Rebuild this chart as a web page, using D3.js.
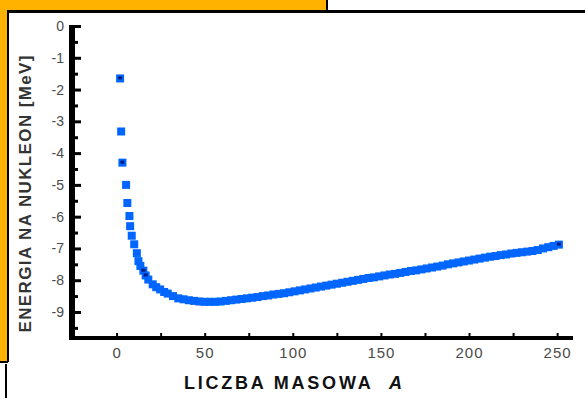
<!DOCTYPE html>
<html>
<head>
<meta charset="utf-8">
<script src="https://cdn.jsdelivr.net/npm/d3@7"></script>
<style>
  body { margin: 0; background: #fff; }
  svg { display: block; }
</style>
</head>
<body>
<div id="chart"></div>
<script>
// data
const massNumber = [2, 2.6, 3.3, 5.4, 6.1, 7.3, 7.7, 8.6, 10, 11.5, 12.4, 13.5, 15.2, 16.5, 18, 20.5,
  22.5, 24.7, 27, 29, 32, 35, 38, 41, 44, 47, 50, 53, 56, 59, 62, 65, 68, 71, 74, 77, 80, 83, 86,
  89, 92, 95, 98, 101, 104, 107, 110, 113, 116, 119, 122, 125, 128, 131, 134, 137, 140, 143, 146,
  149, 152, 155, 158, 161, 164, 167, 170, 173, 176, 179, 182, 185, 188, 191, 194, 197, 200, 203,
  206, 209, 212, 215, 218, 221, 224, 227, 230, 233, 236, 239, 242, 245, 248, 251]
const energy = [-1.65, -3.32, -4.3, -5.0, -5.57, -5.98, -6.3, -6.6, -6.87, -7.15, -7.4, -7.55, -7.7,
  -7.85, -7.98, -8.13, -8.22, -8.29, -8.37, -8.42, -8.5, -8.57, -8.6, -8.63, -8.65, -8.67, -8.68,
  -8.68, -8.68, -8.67, -8.65, -8.63, -8.61, -8.59, -8.57, -8.55, -8.53, -8.5, -8.48, -8.45, -8.43,
  -8.41, -8.38, -8.35, -8.32, -8.29, -8.26, -8.23, -8.2, -8.17, -8.14, -8.11, -8.08, -8.05, -8.02,
  -7.99, -7.96, -7.93, -7.91, -7.88, -7.85, -7.82, -7.8, -7.77, -7.74, -7.71, -7.69, -7.66, -7.63,
  -7.6, -7.57, -7.54, -7.5, -7.47, -7.44, -7.41, -7.38, -7.35, -7.32, -7.29, -7.26, -7.24, -7.21,
  -7.19, -7.16, -7.14, -7.12, -7.1, -7.08, -7.05, -7.0, -6.96, -6.92, -6.88]
// darker markers
const markedA = [2, 3.3, 15.2, 16.5, 251]
const markedE = [-1.65, -4.3, -7.7, -7.85, -6.88]

const xTicks = [0, 50, 100, 150, 200, 250]
const xMinor = [25, 75, 125, 175, 225]
const yTicks = [0, -1, -2, -3, -4, -5, -6, -7, -8, -9]
const yMinor = [-0.5, -1.5, -2.5, -3.5, -4.5, -5.5, -6.5, -7.5, -8.5, -9.5]

const W = 585, H = 398

const svg = d3.select("#chart").append("svg")
    .attr("width", W)
    .attr("height", H)

// frame / background decoration
svg.append("rect").attr("x", 0).attr("y", 0).attr("width", 327).attr("height", 10).attr("fill", "#ffb300")
svg.append("rect").attr("x", 0).attr("y", 0).attr("width", 7).attr("height", 362).attr("fill", "#ffb300")
svg.append("rect").attr("x", 7).attr("y", 10).attr("width", 578).attr("height", 3).attr("fill", "#000")
svg.append("rect").attr("x", 326).attr("y", 0).attr("width", 2).attr("height", 10).attr("fill", "#000")
svg.append("rect").attr("x", 7).attr("y", 10).attr("width", 2).attr("height", 352).attr("fill", "#000")
svg.append("rect").attr("x", 0).attr("y", 361).attr("width", 8).attr("height", 2).attr("fill", "#000")
svg.append("rect").attr("x", 5).attr("y", 364).attr("width", 2).attr("height", 34).attr("fill", "#000")

const x = d3.scaleLinear().domain([-27, 259]).range([69, 573])
const y = d3.scaleLinear().domain([0, -9.85]).range([26, 339])

// x axis
svg.append("g")
    .attr("transform", "translate(0,337)")
    .call(d3.axisTop(x).tickValues(xTicks.concat(xMinor)).tickSize(4).tickFormat(""))
    .call(g => g.select(".domain").remove())
    .call(g => g.selectAll("line").attr("stroke", "#000").attr("stroke-width", 2))
svg.append("rect").attr("x", 69).attr("y", 336).attr("width", 504).attr("height", 4).attr("fill", "#000")

svg.append("g")
    .attr("transform", "translate(0,340)")
    .call(d3.axisBottom(x).tickValues(xTicks).tickSize(0).tickPadding(7))
    .call(g => g.select(".domain").remove())
    .call(g => g.selectAll("text")
        .attr("fill", "#4a4a4a")
        .style("font-family", "Liberation Sans, Arial, sans-serif")
        .style("font-size", "15px")
        .style("letter-spacing", "1px"))

// y axis
svg.append("rect").attr("x", 69).attr("y", 25).attr("width", 6).attr("height", 315).attr("fill", "#000")
svg.append("g")
    .attr("transform", "translate(75,0)")
    .call(d3.axisRight(y).tickValues(yTicks).tickSize(6).tickFormat(""))
    .call(g => g.select(".domain").remove())
    .call(g => g.selectAll("line").attr("stroke", "#000").attr("stroke-width", 3))
svg.append("g")
    .attr("transform", "translate(75,0)")
    .call(d3.axisRight(y).tickValues(yMinor).tickSize(3).tickFormat(""))
    .call(g => g.select(".domain").remove())
    .call(g => g.selectAll("line").attr("stroke", "#000").attr("stroke-width", 3))

svg.append("g")
    .attr("transform", "translate(69,0)")
    .call(d3.axisLeft(y).tickValues(yTicks).tickSize(0).tickPadding(5).tickFormat(d => d === 0 ? "0" : "-" + Math.abs(d)))
    .call(g => g.select(".domain").remove())
    .call(g => g.selectAll("text")
        .attr("fill", "#4a4a4a")
        .style("font-family", "Liberation Sans, Arial, sans-serif")
        .style("font-size", "14px"))

// data points
const pts = massNumber.map((a, i) => ({a: a, e: energy[i]}))
const S = 8
svg.append("g").selectAll("rect")
    .data(pts)
    .join("rect")
        .attr("x", d => x(d.a) - S / 2)
        .attr("y", d => y(d.e) - S / 2)
        .attr("width", S)
        .attr("height", S)
        .attr("fill", "#0066ff")

const marks = markedA.map((a, i) => ({a: a, e: markedE[i]}))
svg.append("g").selectAll("rect")
    .data(marks)
    .join("rect")
        .attr("x", d => x(d.a) - 2)
        .attr("y", d => y(d.e) - 2)
        .attr("width", 4)
        .attr("height", 3)
        .attr("fill", "#001a80")

// axis titles
svg.append("text")
    .attr("x", 293)
    .attr("y", 389)
    .attr("text-anchor", "middle")
    .attr("textLength", 218)
    .attr("lengthAdjust", "spacing")
    .style("font-family", "Liberation Sans, Arial, sans-serif")
    .style("font-weight", "bold")
    .style("font-size", "18px")
    .attr("fill", "#111")
    .html('LICZBA MASOWA&#160; <tspan font-style="italic">A</tspan>')

svg.append("text")
    .attr("transform", "translate(31,194) rotate(-90)")
    .attr("text-anchor", "middle")
    .attr("textLength", 277)
    .attr("lengthAdjust", "spacing")
    .style("font-family", "Liberation Sans, Arial, sans-serif")
    .style("font-weight", "bold")
    .style("font-size", "17px")
    .attr("fill", "#333")
    .text("ENERGIA NA NUKLEON [MeV]")
</script>
</body>
</html>
